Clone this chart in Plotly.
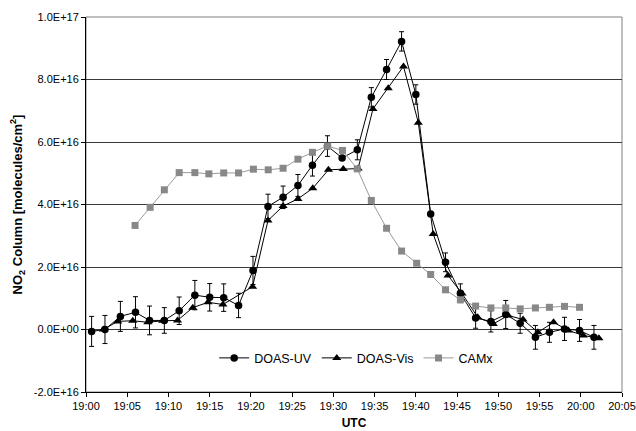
import pandas as pd
import plotly.graph_objects as go

# minutes after 19:00 UTC, NO2 columns in units of 1e16 molecules/cm2
uv_min = [0.68, 2.3, 4.17, 6.0, 7.7, 9.5, 11.3, 13.2, 15.0, 16.7, 18.5, 20.25, 22.07, 23.9, 25.7,
          27.46, 29.28, 31.06, 32.9, 34.6, 36.45, 38.27, 40.0, 41.8, 43.6, 45.4, 47.25, 49.1, 50.9,
          52.65, 54.5, 56.2, 58.03, 59.85, 61.6]
uv_val = [-0.06, 0.0, 0.42, 0.55, 0.29, 0.29, 0.6, 1.1, 1.03, 1.02, 0.77, 1.89, 3.94, 4.23, 4.61,
          5.26, 5.87, 5.49, 5.75, 7.43, 8.32, 9.22, 7.52, 3.70, 2.15, 1.16, 0.37, 0.26, 0.48,
          0.2, -0.25, -0.09, 0.02, -0.03, -0.25]
uv_err = [0.48, 0.45, 0.48, 0.5, 0.46, 0.41, 0.44, 0.47, 0.44, 0.44, 0.39, 0.45, 0.39, 0.36, 0.35,
          0.35, 0.33, 0.0, 0.32, 0.31, 0.32, 0.31, 0.31, 0.0, 0.3, 0.3, 0.33, 0.34, 0.45,
          0.32, 0.38, 0.32, 0.37, 0.35, 0.38]

vis_min = [2.1, 3.85, 5.67, 7.5, 9.3, 11.1, 12.95, 14.8, 16.6, 20.2, 22.07, 23.9, 25.7, 27.5,
           29.4, 31.2, 33.0, 34.8, 36.65, 38.5, 40.3, 42.1, 43.9, 45.6, 47.5, 49.4, 51.2, 53.0,
           54.8, 56.7, 58.5, 60.3, 62.2]
vis_val = [0.0, 0.26, 0.28, 0.23, 0.28, 0.29, 0.7, 0.87, 0.8, 1.37, 3.49, 3.95, 4.18, 4.52,
           5.11, 5.14, 5.15, 7.06, 7.72, 8.42, 6.62, 3.06, 1.73, 1.15, 0.39, 0.18, 0.45, 0.32,
           -0.09, 0.23, -0.03, -0.19, -0.28]

camx_min = [5.95, 7.78, 9.5, 11.3, 13.2, 14.9, 16.7, 18.5, 20.3, 22.1, 23.9, 25.7, 27.46, 29.3,
            31.1, 32.9, 34.6, 36.45, 38.27, 40.1, 41.8, 43.6, 45.4, 47.25, 49.1, 50.9, 52.65,
            54.5, 56.2, 58.03, 59.85]
camx_val = [3.33, 3.91, 4.47, 5.02, 5.02, 4.98, 5.01, 5.01, 5.13, 5.11, 5.16, 5.45, 5.67, 5.87,
            5.73, 5.14, 4.13, 3.24, 2.51, 2.12, 1.76, 1.27, 0.95, 0.75, 0.69, 0.69, 0.66,
            0.69, 0.71, 0.74, 0.71]

y_ticks = [-2e16, 0, 2e16, 4e16, 6e16, 8e16, 1e17]
y_tick_labels = ["-2.0E+16", "0.0E+00", "2.0E+16", "4.0E+16", "6.0E+16", "8.0E+16", "1.0E+17"]
x_tick_min = [0, 5, 10, 15, 20, 25, 30, 35, 40, 45, 50, 55, 60, 65]
x_tick_labels = ["19:00", "19:05", "19:10", "19:15", "19:20", "19:25", "19:30", "19:35",
                 "19:40", "19:45", "19:50", "19:55", "20:00", "20:05"]

base = pd.Timestamp("2004-01-01 19:00:00")
def tt(m):
    return base + pd.to_timedelta(pd.Series(m), unit="m")
def sc(v):
    return [x * 1e16 for x in v]

fig = go.Figure()
fig.add_trace(go.Scatter(
    x=tt(uv_min), y=sc(uv_val), name="DOAS-UV", mode="lines+markers",
    line=dict(color="black", width=1),
    marker=dict(symbol="circle", size=7.5, color="black"),
    error_y=dict(type="data", array=sc(uv_err), color="black", thickness=1, width=2.5)))
fig.add_trace(go.Scatter(
    x=tt(vis_min), y=sc(vis_val), name="DOAS-Vis", mode="lines+markers",
    line=dict(color="black", width=1),
    marker=dict(symbol="triangle-up", size=8, color="black")))
fig.add_trace(go.Scatter(
    x=tt(camx_min), y=sc(camx_val), name="CAMx", mode="lines+markers",
    line=dict(color="#9a9a9a", width=1),
    marker=dict(symbol="square", size=7, color="#888888")))

fig.update_layout(
    width=636, height=431,
    margin=dict(l=86, r=14, t=17, b=39),
    paper_bgcolor="white", plot_bgcolor="white",
    font=dict(family="Liberation Sans, Arial", size=11, color="black"),
    showlegend=True,
    legend=dict(orientation="h", x=0.505, y=0.09, xanchor="center", yanchor="middle",
                bgcolor="rgba(0,0,0,0)", font=dict(size=12.5), itemwidth=30,
                tracegroupgap=0),
    shapes=[dict(type="rect", xref="paper", yref="paper", x0=0, y0=0, x1=1, y1=1,
                 line=dict(color="#808080", width=1), layer="below")],
)
fig.update_xaxes(
    range=[base, base + pd.Timedelta(minutes=65)],
    tickvals=list(tt(x_tick_min)), ticktext=x_tick_labels,
    ticks="outside", ticklen=4, tickcolor="black",
    showline=True, linecolor="black", linewidth=1, showgrid=False, zeroline=False,
    title=dict(text="<b>UTC</b>", font=dict(size=12), standoff=7),
    tickfont=dict(size=11), automargin=False,
)
fig.update_yaxes(
    range=[-2e16, 1e17],
    tickvals=y_ticks, ticktext=y_tick_labels,
    ticks="outside", ticklen=4, tickcolor="black",
    showline=True, linecolor="black", linewidth=1,
    showgrid=True, gridcolor="#3a3a3a", gridwidth=1, zeroline=False,
    title=dict(text="<b>NO<sub>2</sub> Column [molecules/cm<sup>2</sup>]</b>", font=dict(size=13), standoff=8),
    tickfont=dict(size=11), automargin=False,
)

fig.write_html("out.html", config={"displayModeBar": False},
               post_script="document.body.style.margin='0';document.body.style.overflow='hidden';")
